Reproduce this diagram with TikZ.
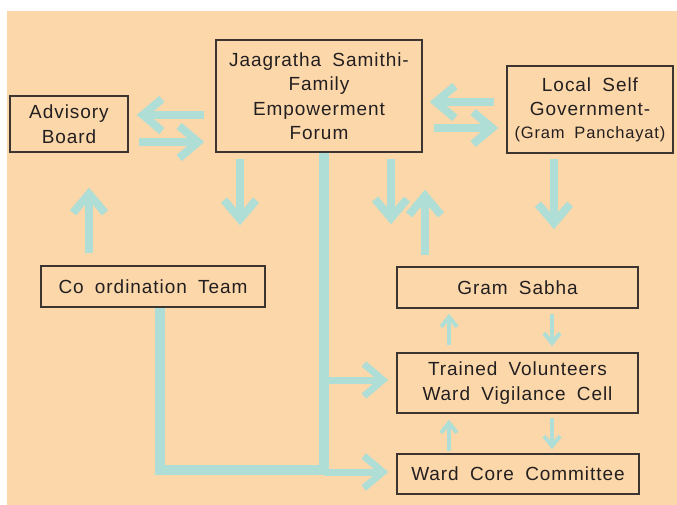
\documentclass[tikz,border=0pt]{standalone}
\usepackage{fontspec}
\setmainfont[LetterSpace=5,WordSpace=1.8]{Liberation Sans}
\usetikzlibrary{arrows.meta,calc}
\definecolor{bgc}{HTML}{FCD7AA}
\definecolor{tealc}{HTML}{AEDED5}
\definecolor{edgec}{HTML}{3B3430}
\definecolor{txtc}{HTML}{231F20}
\begin{document}
\begin{tikzpicture}[x=1pt,y=-1pt,
  box/.style={draw=edgec, line width=1.4pt, inner sep=0pt, align=center,
    text=txtc, font=\fontsize{19}{24.5}\selectfont},
  bigarr/.style={draw=tealc, line width=8pt, -{Straight Barb[length=19pt,width=32pt]}},
  midarr/.style={draw=tealc, line width=7pt, -{Straight Barb[length=19pt,width=32pt]}},
  smallarr/.style={draw=tealc, line width=4pt, -{Straight Barb[length=10pt,width=16pt]}},
  trunk/.style={draw=tealc, line width=10pt}]
\useasboundingbox (0,0) rectangle (677,505);
\fill[bgc] (7,11) rectangle (677,505);

\node[box, minimum width=118pt, minimum height=56pt] (ab) at (69,124) {Advisory\\Board};
\node[box, minimum width=206pt, minimum height=112pt] (jf) at (319,96)
  {Jaagratha Samithi-\\Family\\Empowerment\\Forum};
\node[box, minimum width=166pt, minimum height=87pt] (ls) at (590,109.5)
  {Local Self\\Government-\\[-2pt]{\fontsize{16.5}{20}\selectfont (Gram Panchayat)}};
\node[box, minimum width=224pt, minimum height=41pt] (ct) at (153,286.5) {Co ordination Team};
\node[box, minimum width=241pt, minimum height=41pt] (gs) at (517.5,287.5) {Gram Sabha};
\node[box, minimum width=241pt, minimum height=60pt] (tv) at (517.5,383)
  {Trained Volunteers\\Ward Vigilance Cell};
\node[box, minimum width=242pt, minimum height=40pt] (wc) at (518,474) {Ward Core Committee};

% horizontal pairs
\draw[bigarr, shorten <=11pt, shorten >=8pt] (jf.west |- 0,115) -- (ab.east |- 0,115);
\draw[bigarr, shorten <=10pt, shorten >=11pt] (ab.east |- 0,142) -- (jf.west |- 0,142);
\draw[bigarr, shorten <=12pt, shorten >=7pt] (ls.west |- 0,102) -- (jf.east |- 0,102);
\draw[bigarr, shorten <=11pt, shorten >=8pt] (jf.east |- 0,128) -- (ls.west |- 0,128);

% vertical big arrows
\draw[bigarr, shorten <=6pt, shorten >=40pt] (jf.south -| 240,0) -- (ct.north -| 240,0);
\draw[bigarr, shorten <=6pt, shorten >=42pt] (jf.south -| 391,0) -- (gs.north -| 391,0);
\draw[bigarr, shorten <=11pt, shorten >=37pt] (gs.north -| 425,0) -- (jf.south -| 425,0);
\draw[bigarr, shorten <=5pt, shorten >=37pt] (ls.south -| 554,0) -- (gs.north -| 554,0);
\draw[bigarr, shorten <=12pt, shorten >=35pt] (ct.north -| 89,0) -- (ab.south -| 89,0);

% trunk lines
\coordinate (junc) at (324,470);
\coordinate (m1) at (324,380);
\coordinate (m2) at (324,472);
\draw[trunk] (jf.south -| 324,0) -- (324,475);
\draw[trunk] (ct.south -| 160,0) |- (junc);
\draw[midarr, shorten >=8pt] (m1) -- (tv.west |- m1);
\draw[midarr, shorten >=8pt] (m2) -- (wc.west |- m2);

% small arrows
\draw[smallarr, shorten <=7pt, shorten >=5pt] (tv.north -| 449,0) -- (gs.south -| 449,0);
\draw[smallarr, shorten <=5pt, shorten >=6pt] (gs.south -| 552,0) -- (tv.north -| 552,0);
\draw[smallarr, shorten <=2pt, shorten >=6pt] (wc.north -| 449,0) -- (tv.south -| 449,0);
\draw[smallarr, shorten <=4pt, shorten >=4pt] (tv.south -| 552,0) -- (wc.north -| 552,0);
\end{tikzpicture}
\end{document}
